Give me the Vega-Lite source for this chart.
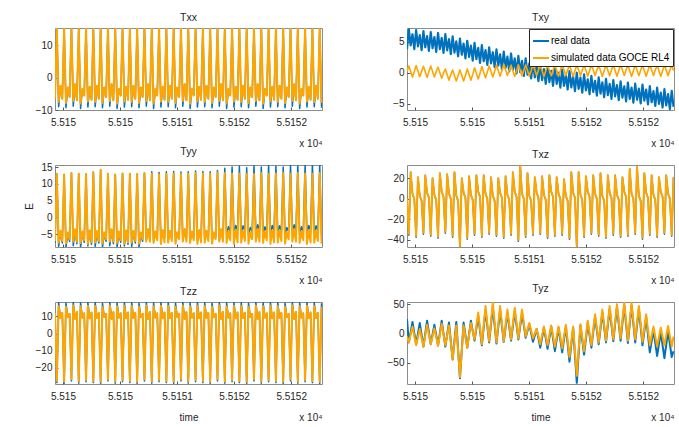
{
"$schema":"https://vega.github.io/schema/vega-lite/v6.json",
"background":"white",
"padding":{"left":24,"top":12,"right":7,"bottom":1},
"datasets":{"d":[
{"t":55149.93,"xx":-6.5,"xxs":-6.5,"xy":3.8,"xys":0.2,"yy":-7.6,"yys":-7,"xz":0,"xzs":0,"zz":12,"zzs":12,"yz":25,"yzs":-5},
{"t":55149.946,"xx":15.4,"xxs":15.4,"xy":7,"xys":1.1,"yy":13,"yys":13,"xz":-35.5,"xzs":-34,"zz":-28.5,"zzs":-27.5,"yz":-15,"yzs":-15},
{"t":55149.962,"xx":-9,"xxs":-7.5,"xy":4.4,"xys":0.2,"yy":-8.6,"yys":-7.5,"xz":26,"xzs":26,"zz":18,"zzs":16,"yz":2.5,"yzs":-1.5},
{"t":55149.978,"xx":-2.5,"xxs":-2.5,"xy":6.2,"xys":-0.7,"yy":-4.5,"yys":-4,"xz":5,"xzs":5,"zz":9,"zzs":9,"yz":20,"yzs":12},
{"t":55149.994,"xx":-6.5,"xxs":-6.5,"xy":3.8,"xys":0.2,"yy":-7.6,"yys":-7,"xz":0,"xzs":0,"zz":12,"zzs":12,"yz":1,"yzs":-4},
{"t":55150.01,"xx":15.4,"xxs":15.4,"xy":6.85,"xys":1.15,"yy":12.8,"yys":12.8,"xz":-37.5,"xzs":-36,"zz":-29,"zzs":-28,"yz":-18,"yzs":-20},
{"t":55150.026,"xx":-9.3,"xxs":-7.8,"xy":4.25,"xys":0.25,"yy":-8.9,"yys":-7.8,"xz":21,"xzs":21,"zz":17.6,"zzs":15.5,"yz":0,"yzs":-6},
{"t":55150.042,"xx":-3,"xxs":-3,"xy":6.05,"xys":-0.65,"yy":-5,"yys":-4.5,"xz":3,"xzs":3,"zz":9.5,"zzs":9.5,"yz":18,"yzs":8},
{"t":55150.058,"xx":-6,"xxs":-6,"xy":3.65,"xys":0.25,"yy":-7.1,"yys":-6.5,"xz":-2,"xzs":-2,"zz":11.5,"zzs":11.5,"yz":-2,"yzs":-7},
{"t":55150.074,"xx":15.4,"xxs":15.4,"xy":6.7,"xys":1.05,"yy":13.2,"yys":13.2,"xz":-34.5,"xzs":-33,"zz":-27.5,"zzs":-26.5,"yz":-22,"yzs":-22},
{"t":55150.09,"xx":-8.8,"xxs":-7.2,"xy":4.1,"xys":0.15,"yy":-8.4,"yys":-7.2,"xz":23,"xzs":23,"zz":18.2,"zzs":16.3,"yz":0,"yzs":-3.5},
{"t":55150.106,"xx":-2,"xxs":-2,"xy":5.9,"xys":-0.75,"yy":-4,"yys":-3.5,"xz":6,"xzs":6,"zz":8.5,"zzs":8.5,"yz":22,"yzs":15},
{"t":55150.122,"xx":-7,"xxs":-7,"xy":3.5,"xys":0.15,"yy":-7.8,"yys":-7.2,"xz":1,"xzs":1,"zz":12.5,"zzs":12.5,"yz":2,"yzs":-1.5},
{"t":55150.138,"xx":15.4,"xxs":15.4,"xy":6.55,"xys":1.1,"yy":13,"yys":13,"xz":-36.5,"xzs":-35,"zz":-28.8,"zzs":-27.8,"yz":-18,"yzs":-18},
{"t":55150.154,"xx":-9.5,"xxs":-8,"xy":3.95,"xys":0.2,"yy":-8.8,"yys":-7.6,"xz":20,"xzs":20,"zz":17.8,"zzs":15.8,"yz":-1.5,"yzs":-4.5},
{"t":55150.17,"xx":-3.5,"xxs":-3.5,"xy":5.75,"xys":-0.7,"yy":-4.7,"yys":-4.2,"xz":4,"xzs":4,"zz":9.2,"zzs":9.2,"yz":15,"yzs":9},
{"t":55150.186,"xx":-5.5,"xxs":-5.5,"xy":3.35,"xys":0.2,"yy":-7.4,"yys":-6.8,"xz":-1,"xzs":-1,"zz":11.8,"zzs":11.8,"yz":-2.5,"yzs":-6},
{"t":55150.202,"xx":15.4,"xxs":15.4,"xy":6.4,"xys":0.9,"yy":12.9,"yys":12.9,"xz":-38.5,"xzs":-37,"zz":-28,"zzs":-27,"yz":-20,"yzs":-21},
{"t":55150.218,"xx":-9.1,"xxs":-7.4,"xy":3.8,"xys":0,"yy":-8.5,"yys":-7.9,"xz":25,"xzs":25,"zz":18.1,"zzs":16.1,"yz":1,"yzs":-2},
{"t":55150.234,"xx":-2.8,"xxs":-2.8,"xy":5.6,"xys":-0.9,"yy":-4.3,"yys":-3.8,"xz":7,"xzs":7,"zz":8.8,"zzs":8.8,"yz":22,"yzs":17},
{"t":55150.25,"xx":-6.8,"xxs":-6.8,"xy":3.2,"xys":0,"yy":-8,"yys":-7.4,"xz":2,"xzs":2,"zz":12.2,"zzs":12.2,"yz":0,"yzs":-1.5},
{"t":55150.266,"xx":15.4,"xxs":15.4,"xy":6.2,"xys":0.6,"yy":13.5,"yys":13.5,"xz":-33.5,"xzs":-32,"zz":-28.5,"zzs":-27.5,"yz":-22,"yzs":-20},
{"t":55150.282,"xx":-9,"xxs":-7.5,"xy":3.6,"xys":-0.3,"yy":-8.6,"yys":-7.5,"xz":24,"xzs":24,"zz":18,"zzs":16,"yz":-1.5,"yzs":-3},
{"t":55150.298,"xx":-2.5,"xxs":-2.5,"xy":5.4,"xys":-1.2,"yy":-4.5,"yys":-4,"xz":5,"xzs":5,"zz":9,"zzs":9,"yz":19,"yzs":14},
{"t":55150.314,"xx":-6.5,"xxs":-6.5,"xy":3,"xys":-0.3,"yy":-7.6,"yys":-7,"xz":0,"xzs":0,"zz":12,"zzs":12,"yz":-12.5,"yzs":-15},
{"t":55150.33,"xx":15.4,"xxs":15.4,"xy":5.85,"xys":0.45,"yy":14.2,"yys":14.2,"xz":-37.5,"xzs":-36,"zz":-29,"zzs":-28,"yz":-44,"yzs":-44},
{"t":55150.346,"xx":-9.3,"xxs":-7.8,"xy":3.25,"xys":-0.45,"yy":-8.9,"yys":-7.8,"xz":26,"xzs":26,"zz":17.6,"zzs":15.5,"yz":-12,"yzs":-15},
{"t":55150.362,"xx":-3,"xxs":-3,"xy":5.05,"xys":-1.35,"yy":-5,"yys":-4.5,"xz":3,"xzs":3,"zz":9.5,"zzs":9.5,"yz":20,"yzs":14},
{"t":55150.378,"xx":-6,"xxs":-6,"xy":2.65,"xys":-0.45,"yy":-7.1,"yys":-6.5,"xz":-2,"xzs":-2,"zz":11.5,"zzs":11.5,"yz":-28,"yzs":-30},
{"t":55150.394,"xx":15.4,"xxs":15.4,"xy":5.5,"xys":0.45,"yy":13,"yys":13,"xz":-47.5,"xzs":-46,"zz":-27.5,"zzs":-26.5,"yz":-76,"yzs":-74},
{"t":55150.41,"xx":-8.8,"xxs":-7.2,"xy":2.9,"xys":-0.45,"yy":-8.4,"yys":-7.2,"xz":20,"xzs":20,"zz":18.2,"zzs":16.3,"yz":-28.5,"yzs":-30},
{"t":55150.426,"xx":-2,"xxs":-2,"xy":4.7,"xys":-1.35,"yy":-4,"yys":-3.5,"xz":6,"xzs":6,"zz":8.5,"zzs":8.5,"yz":19,"yzs":14},
{"t":55150.442,"xx":-7,"xxs":-7,"xy":2.3,"xys":-0.45,"yy":-7.8,"yys":-7.2,"xz":1,"xzs":1,"zz":12.5,"zzs":12.5,"yz":-2.5,"yzs":-5},
{"t":55150.458,"xx":15.4,"xxs":15.4,"xy":5.15,"xys":0.6,"yy":12.8,"yys":12.8,"xz":-39.5,"xzs":-38,"zz":-28.8,"zzs":-27.8,"yz":-24,"yzs":-24},
{"t":55150.474,"xx":-9.5,"xxs":-8,"xy":2.55,"xys":-0.3,"yy":-8.8,"yys":-7.6,"xz":22,"xzs":22,"zz":17.8,"zzs":15.8,"yz":-1,"yzs":-3},
{"t":55150.49,"xx":-3.5,"xxs":-3.5,"xy":4.35,"xys":-1.2,"yy":-4.7,"yys":-4.2,"xz":4,"xzs":4,"zz":9.2,"zzs":9.2,"yz":22,"yzs":18},
{"t":55150.506,"xx":-5.5,"xxs":-5.5,"xy":1.95,"xys":-0.3,"yy":-7.4,"yys":-6.8,"xz":-1,"xzs":-1,"zz":11.8,"zzs":11.8,"yz":5,"yzs":4},
{"t":55150.522,"xx":15.4,"xxs":15.4,"xy":4.8,"xys":0.8,"yy":13.1,"yys":13.1,"xz":-35.5,"xzs":-34,"zz":-28,"zzs":-27,"yz":-12,"yzs":-10},
{"t":55150.538,"xx":-9.1,"xxs":-7.4,"xy":2.2,"xys":-0.1,"yy":-8.5,"yys":-7.9,"xz":23,"xzs":23,"zz":18.1,"zzs":16.1,"yz":9,"yzs":13},
{"t":55150.554,"xx":-2.8,"xxs":-2.8,"xy":4,"xys":-1,"yy":-4.3,"yys":-3.8,"xz":7,"xzs":7,"zz":8.8,"zzs":8.8,"yz":30,"yzs":36},
{"t":55150.57,"xx":-6.8,"xxs":-6.8,"xy":1.6,"xys":-0.1,"yy":-8,"yys":-7.4,"xz":2,"xzs":2,"zz":12.2,"zzs":12.2,"yz":5,"yzs":9},
{"t":55150.586,"xx":15.4,"xxs":15.4,"xy":4.45,"xys":1,"yy":13,"yys":13,"xz":-37.5,"xzs":-36,"zz":-28.5,"zzs":-27.5,"yz":-20,"yzs":-18},
{"t":55150.602,"xx":-9,"xxs":-7.5,"xy":1.85,"xys":0.1,"yy":-8.6,"yys":-7.5,"xz":23,"xzs":23,"zz":18,"zzs":16,"yz":10,"yzs":14.5},
{"t":55150.618,"xx":-2.5,"xxs":-2.5,"xy":3.65,"xys":-0.8,"yy":-4.5,"yys":-4,"xz":5,"xzs":5,"zz":9,"zzs":9,"yz":40,"yzs":47},
{"t":55150.634,"xx":-6.5,"xxs":-6.5,"xy":1.25,"xys":0.1,"yy":-7.6,"yys":-7,"xz":0,"xzs":0,"zz":12,"zzs":12,"yz":12.5,"yzs":17},
{"t":55150.65,"xx":15.4,"xxs":15.4,"xy":4.1,"xys":1.1,"yy":12.9,"yys":12.9,"xz":-34.5,"xzs":-33,"zz":-29,"zzs":-28,"yz":-15,"yzs":-13},
{"t":55150.666,"xx":-9.3,"xxs":-7.8,"xy":1.5,"xys":0.2,"yy":-8.9,"yys":-7.8,"xz":21,"xzs":21,"zz":17.6,"zzs":15.5,"yz":15,"yzs":20},
{"t":55150.682,"xx":-3,"xxs":-3,"xy":3.3,"xys":-0.7,"yy":-5,"yys":-4.5,"xz":3,"xzs":3,"zz":9.5,"zzs":9.5,"yz":45,"yzs":53},
{"t":55150.698,"xx":-6,"xxs":-6,"xy":0.9,"xys":0.2,"yy":-7.1,"yys":-6.5,"xz":-2,"xzs":-2,"zz":11.5,"zzs":11.5,"yz":14,"yzs":19},
{"t":55150.714,"xx":15.4,"xxs":15.4,"xy":3.75,"xys":1.25,"yy":13.2,"yys":13.2,"xz":-36.5,"xzs":-35,"zz":-27.5,"zzs":-26.5,"yz":-17,"yzs":-15},
{"t":55150.73,"xx":-8.8,"xxs":-7.2,"xy":1.15,"xys":0.35,"yy":-6.8,"yys":-7.2,"xz":20,"xzs":20,"zz":18.2,"zzs":16.3,"yz":11.5,"yzs":16},
{"t":55150.746,"xx":-2,"xxs":-2,"xy":2.95,"xys":-0.55,"yy":-3.5,"yys":-3.5,"xz":6,"xzs":6,"zz":8.5,"zzs":8.5,"yz":40,"yzs":47},
{"t":55150.762,"xx":-7,"xxs":-7,"xy":0.55,"xys":0.35,"yy":-6.2,"yys":-7.2,"xz":1,"xzs":1,"zz":12.5,"zzs":12.5,"yz":13,"yzs":17},
{"t":55150.778,"xx":15.4,"xxs":15.4,"xy":3.4,"xys":1.35,"yy":13.6,"yys":13,"xz":-38.5,"xzs":-37,"zz":-28.8,"zzs":-27.8,"yz":-14,"yzs":-13},
{"t":55150.794,"xx":-9.5,"xxs":-8,"xy":0.8,"xys":0.45,"yy":-7.1,"yys":-7.6,"xz":22,"xzs":22,"zz":17.8,"zzs":15.8,"yz":10.5,"yzs":14},
{"t":55150.81,"xx":-3.5,"xxs":-3.5,"xy":2.6,"xys":-0.45,"yy":-4.2,"yys":-4.2,"xz":4,"xzs":4,"zz":9.2,"zzs":9.2,"yz":35,"yzs":41},
{"t":55150.826,"xx":-5.5,"xxs":-5.5,"xy":0.2,"xys":0.45,"yy":-5.9,"yys":-6.8,"xz":-1,"xzs":-1,"zz":11.8,"zzs":11.8,"yz":11.5,"yzs":15.5},
{"t":55150.842,"xx":15.4,"xxs":15.4,"xy":3.1,"xys":1.2,"yy":13.4,"yys":12.8,"xz":-35.5,"xzs":-34,"zz":-28,"zzs":-27,"yz":-12,"yzs":-10},
{"t":55150.858,"xx":-9.1,"xxs":-7.4,"xy":0.5,"xys":0.3,"yy":-6.9,"yys":-7.9,"xz":26,"xzs":26,"zz":18.1,"zzs":16.1,"yz":13,"yzs":17},
{"t":55150.874,"xx":-2.8,"xxs":-2.8,"xy":2.3,"xys":-0.6,"yy":-3.8,"yys":-3.8,"xz":7,"xzs":7,"zz":8.8,"zzs":8.8,"yz":38,"yzs":44},
{"t":55150.89,"xx":-6.8,"xxs":-6.8,"xy":-0.1,"xys":0.3,"yy":-6.1,"yys":-7.4,"xz":2,"xzs":2,"zz":12.2,"zzs":12.2,"yz":14,"yzs":18},
{"t":55150.906,"xx":15.4,"xxs":15.4,"xy":2.7,"xys":1.3,"yy":13.6,"yys":13,"xz":-41.5,"xzs":-40,"zz":-28.5,"zzs":-27.5,"yz":-10,"yzs":-8},
{"t":55150.922,"xx":-9,"xxs":-7.5,"xy":0.1,"xys":0.4,"yy":-7,"yys":-7.5,"xz":32,"xzs":32,"zz":18,"zzs":16,"yz":12.5,"yzs":16.5},
{"t":55150.938,"xx":-2.5,"xxs":-2.5,"xy":1.9,"xys":-0.5,"yy":-4,"yys":-4,"xz":5,"xzs":5,"zz":9,"zzs":9,"yz":35,"yzs":41},
{"t":55150.954,"xx":-6.5,"xxs":-6.5,"xy":-0.5,"xys":0.4,"yy":-6,"yys":-7,"xz":0,"xzs":0,"zz":12,"zzs":12,"yz":14,"yzs":18},
{"t":55150.97,"xx":15.4,"xxs":15.4,"xy":2.3,"xys":1.25,"yy":13.7,"yys":13.1,"xz":-37.5,"xzs":-36,"zz":-29,"zzs":-28,"yz":-7,"yzs":-5},
{"t":55150.986,"xx":-9.3,"xxs":-7.8,"xy":-0.3,"xys":0.35,"yy":-7.2,"yys":-7.8,"xz":25,"xzs":25,"zz":17.6,"zzs":15.5,"yz":4.5,"yzs":6.5},
{"t":55151.002,"xx":-3,"xxs":-3,"xy":1.5,"xys":-0.55,"yy":-4.5,"yys":-4.5,"xz":3,"xzs":3,"zz":9.5,"zzs":9.5,"yz":16,"yzs":18},
{"t":55151.018,"xx":-6,"xxs":-6,"xy":-0.9,"xys":0.35,"yy":-5.8,"yys":-6.5,"xz":-2,"xzs":-2,"zz":11.5,"zzs":11.5,"yz":1,"yzs":5},
{"t":55151.034,"xx":15.4,"xxs":15.4,"xy":1.85,"xys":1.35,"yy":13.5,"yys":12.9,"xz":-35.5,"xzs":-34,"zz":-27.5,"zzs":-26.5,"yz":-14,"yzs":-8},
{"t":55151.05,"xx":-8.8,"xxs":-7.2,"xy":-0.75,"xys":0.45,"yy":-6.8,"yys":-7.2,"xz":21,"xzs":21,"zz":18.2,"zzs":16.3,"yz":-3,"yzs":0},
{"t":55151.066,"xx":-2,"xxs":-2,"xy":1.05,"xys":-0.45,"yy":-3.5,"yys":-3.5,"xz":6,"xzs":6,"zz":8.5,"zzs":8.5,"yz":8,"yzs":8},
{"t":55151.082,"xx":-7,"xxs":-7,"xy":-1.35,"xys":0.45,"yy":-6.2,"yys":-7.2,"xz":1,"xzs":1,"zz":12.5,"zzs":12.5,"yz":-8,"yzs":-5},
{"t":55151.098,"xx":15.4,"xxs":15.4,"xy":1.4,"xys":1.2,"yy":13.6,"yys":13,"xz":-34.5,"xzs":-33,"zz":-28.8,"zzs":-27.8,"yz":-24,"yzs":-18},
{"t":55151.114,"xx":-9.5,"xxs":-8,"xy":-1.2,"xys":0.3,"yy":-7.1,"yys":-7.6,"xz":22,"xzs":22,"zz":17.8,"zzs":15.8,"yz":-7,"yzs":-3},
{"t":55151.13,"xx":-3.5,"xxs":-3.5,"xy":0.6,"xys":-0.6,"yy":-4.2,"yys":-4.2,"xz":4,"xzs":4,"zz":9.2,"zzs":9.2,"yz":10,"yzs":12},
{"t":55151.146,"xx":-5.5,"xxs":-5.5,"xy":-1.8,"xys":0.3,"yy":-5.9,"yys":-6.8,"xz":-1,"xzs":-1,"zz":11.8,"zzs":11.8,"yz":-8,"yzs":-4},
{"t":55151.162,"xx":15.4,"xxs":15.4,"xy":1.1,"xys":1.3,"yy":13.8,"yys":13.2,"xz":-38.5,"xzs":-37,"zz":-28,"zzs":-27,"yz":-26,"yzs":-20},
{"t":55151.178,"xx":-9.1,"xxs":-7.4,"xy":-1.5,"xys":0.4,"yy":-6.9,"yys":-7.9,"xz":23,"xzs":23,"zz":18.1,"zzs":16.1,"yz":-7,"yzs":-3},
{"t":55151.194,"xx":-2.8,"xxs":-2.8,"xy":0.3,"xys":-0.5,"yy":-3.8,"yys":-3.8,"xz":7,"xzs":7,"zz":8.8,"zzs":8.8,"yz":12,"yzs":14},
{"t":55151.21,"xx":-6.8,"xxs":-6.8,"xy":-2.1,"xys":0.4,"yy":-6.1,"yys":-7.4,"xz":2,"xzs":2,"zz":12.2,"zzs":12.2,"yz":-9,"yzs":-4},
{"t":55151.226,"xx":15.4,"xxs":15.4,"xy":0.8,"xys":1.25,"yy":13.7,"yys":13.1,"xz":-36.5,"xzs":-35,"zz":-28.5,"zzs":-27.5,"yz":-30,"yzs":-22},
{"t":55151.242,"xx":-9,"xxs":-7.5,"xy":-1.8,"xys":0.35,"yy":-7,"yys":-7.5,"xz":21,"xzs":21,"zz":18,"zzs":16,"yz":-10,"yzs":-5},
{"t":55151.258,"xx":-2.5,"xxs":-2.5,"xy":0,"xys":-0.55,"yy":-4,"yys":-4,"xz":5,"xzs":5,"zz":9,"zzs":9,"yz":10,"yzs":12},
{"t":55151.274,"xx":-6.5,"xxs":-6.5,"xy":-2.4,"xys":0.35,"yy":-6,"yys":-7,"xz":0,"xzs":0,"zz":12,"zzs":12,"yz":-11,"yzs":-6.5},
{"t":55151.29,"xx":15.4,"xxs":15.4,"xy":0.5,"xys":1.35,"yy":13.6,"yys":13,"xz":-35.5,"xzs":-34,"zz":-29,"zzs":-28,"yz":-32,"yzs":-25},
{"t":55151.306,"xx":-9.3,"xxs":-7.8,"xy":-2.1,"xys":0.45,"yy":-7.2,"yys":-7.8,"xz":19,"xzs":19,"zz":17.6,"zzs":15.5,"yz":-10,"yzs":-5},
{"t":55151.322,"xx":-3,"xxs":-3,"xy":-0.3,"xys":-0.45,"yy":-4.5,"yys":-4.5,"xz":3,"xzs":3,"zz":9.5,"zzs":9.5,"yz":12,"yzs":15},
{"t":55151.338,"xx":-6,"xxs":-6,"xy":-2.7,"xys":0.45,"yy":-5.8,"yys":-6.5,"xz":-2,"xzs":-2,"zz":11.5,"zzs":11.5,"yz":-18,"yzs":-12.5},
{"t":55151.354,"xx":15.4,"xxs":15.4,"xy":0.25,"xys":1.2,"yy":14,"yys":13.4,"xz":-39.5,"xzs":-38,"zz":-27.5,"zzs":-26.5,"yz":-48,"yzs":-40},
{"t":55151.37,"xx":-8.8,"xxs":-7.2,"xy":-2.35,"xys":0.3,"yy":-6.8,"yys":-7.2,"xz":26,"xzs":26,"zz":18.2,"zzs":16.3,"yz":-19,"yzs":-14},
{"t":55151.386,"xx":-2,"xxs":-2,"xy":-0.55,"xys":-0.6,"yy":-3.5,"yys":-3.5,"xz":6,"xzs":6,"zz":8.5,"zzs":8.5,"yz":10,"yzs":12},
{"t":55151.402,"xx":-7,"xxs":-7,"xy":-2.95,"xys":0.3,"yy":-6.2,"yys":-7.2,"xz":1,"xzs":1,"zz":12.5,"zzs":12.5,"yz":-37,"yzs":-30},
{"t":55151.418,"xx":15.4,"xxs":15.4,"xy":0,"xys":1.3,"yy":14.6,"yys":13.2,"xz":-47.5,"xzs":-46,"zz":-28.8,"zzs":-27.8,"yz":-84,"yzs":-72},
{"t":55151.434,"xx":-9.5,"xxs":-8,"xy":-2.6,"xys":0.4,"yy":-5,"yys":-7.6,"xz":26,"xzs":26,"zz":17.8,"zzs":15.8,"yz":-35,"yzs":-28},
{"t":55151.45,"xx":-3.5,"xxs":-3.5,"xy":-0.8,"xys":-0.5,"yy":-2.8,"yys":-4.2,"xz":4,"xzs":4,"zz":9.2,"zzs":9.2,"yz":14,"yzs":16},
{"t":55151.466,"xx":-5.5,"xxs":-5.5,"xy":-3.2,"xys":0.4,"yy":-4.2,"yys":-6.8,"xz":-1,"xzs":-1,"zz":11.8,"zzs":11.8,"yz":-11,"yzs":-7},
{"t":55151.482,"xx":15.4,"xxs":15.4,"xy":-0.25,"xys":1.25,"yy":15,"yys":13,"xz":-37.5,"xzs":-36,"zz":-28,"zzs":-27,"yz":-36,"yzs":-30},
{"t":55151.498,"xx":-9.1,"xxs":-7.4,"xy":-2.85,"xys":0.35,"yy":-4.6,"yys":-7.9,"xz":22,"xzs":22,"zz":18.1,"zzs":16.1,"yz":-9,"yzs":-4},
{"t":55151.514,"xx":-2.8,"xxs":-2.8,"xy":-1.05,"xys":-0.55,"yy":-2.4,"yys":-3.8,"xz":7,"xzs":7,"zz":8.8,"zzs":8.8,"yz":18,"yzs":22},
{"t":55151.53,"xx":-6.8,"xxs":-6.8,"xy":-3.45,"xys":0.35,"yy":-3.9,"yys":-7.4,"xz":2,"xzs":2,"zz":12.2,"zzs":12.2,"yz":-3,"yzs":1},
{"t":55151.546,"xx":15.4,"xxs":15.4,"xy":-0.5,"xys":1.35,"yy":15.2,"yys":13.1,"xz":-34.5,"xzs":-33,"zz":-28.5,"zzs":-27.5,"yz":-24,"yzs":-20},
{"t":55151.562,"xx":-9,"xxs":-7.5,"xy":-3.1,"xys":0.45,"yy":-4.8,"yys":-7.5,"xz":23,"xzs":23,"zz":18,"zzs":16,"yz":2,"yzs":6.5},
{"t":55151.578,"xx":-2.5,"xxs":-2.5,"xy":-1.3,"xys":-0.45,"yy":-2.5,"yys":-4,"xz":5,"xzs":5,"zz":9,"zzs":9,"yz":28,"yzs":33},
{"t":55151.594,"xx":-6.5,"xxs":-6.5,"xy":-3.7,"xys":0.45,"yy":-4,"yys":-7,"xz":0,"xzs":0,"zz":12,"zzs":12,"yz":5,"yzs":9},
{"t":55151.61,"xx":15.4,"xxs":15.4,"xy":-0.75,"xys":1.2,"yy":14.8,"yys":13,"xz":-36.5,"xzs":-35,"zz":-29,"zzs":-28,"yz":-18,"yzs":-15},
{"t":55151.626,"xx":-9.3,"xxs":-7.8,"xy":-3.35,"xys":0.3,"yy":-5.2,"yys":-7.8,"xz":25,"xzs":25,"zz":17.6,"zzs":15.5,"yz":9,"yzs":13},
{"t":55151.642,"xx":-3,"xxs":-3,"xy":-1.55,"xys":-0.6,"yy":-3,"yys":-4.5,"xz":3,"xzs":3,"zz":9.5,"zzs":9.5,"yz":36,"yzs":41},
{"t":55151.658,"xx":-6,"xxs":-6,"xy":-3.95,"xys":0.3,"yy":-4.3,"yys":-6.5,"xz":-2,"xzs":-2,"zz":11.5,"zzs":11.5,"yz":10.5,"yzs":14.5},
{"t":55151.674,"xx":15.4,"xxs":15.4,"xy":-1,"xys":1.3,"yy":15.4,"yys":12.9,"xz":-38.5,"xzs":-37,"zz":-27.5,"zzs":-26.5,"yz":-15,"yzs":-12},
{"t":55151.69,"xx":-8.8,"xxs":-7.2,"xy":-3.6,"xys":0.4,"yy":-4.5,"yys":-7.2,"xz":23,"xzs":23,"zz":18.2,"zzs":16.3,"yz":13.5,"yzs":17.5},
{"t":55151.706,"xx":-2,"xxs":-2,"xy":-1.8,"xys":-0.5,"yy":-2.2,"yys":-3.5,"xz":6,"xzs":6,"zz":8.5,"zzs":8.5,"yz":42,"yzs":47},
{"t":55151.722,"xx":-7,"xxs":-7,"xy":-4.2,"xys":0.4,"yy":-3.8,"yys":-7.2,"xz":1,"xzs":1,"zz":12.5,"zzs":12.5,"yz":14.5,"yzs":18.5},
{"t":55151.738,"xx":15.4,"xxs":15.4,"xy":-1.2,"xys":1.25,"yy":15,"yys":13.2,"xz":-35.5,"xzs":-34,"zz":-28.8,"zzs":-27.8,"yz":-13,"yzs":-10},
{"t":55151.754,"xx":-9.5,"xxs":-8,"xy":-3.8,"xys":0.35,"yy":-5,"yys":-7.6,"xz":23,"xzs":23,"zz":17.8,"zzs":15.8,"yz":16,"yzs":20},
{"t":55151.77,"xx":-3.5,"xxs":-3.5,"xy":-2,"xys":-0.55,"yy":-2.8,"yys":-4.2,"xz":4,"xzs":4,"zz":9.2,"zzs":9.2,"yz":45,"yzs":50},
{"t":55151.786,"xx":-5.5,"xxs":-5.5,"xy":-4.4,"xys":0.35,"yy":-4.2,"yys":-6.8,"xz":-1,"xzs":-1,"zz":11.8,"zzs":11.8,"yz":16.5,"yzs":21},
{"t":55151.802,"xx":15.4,"xxs":15.4,"xy":-1.4,"xys":1.35,"yy":15.5,"yys":13,"xz":-37.5,"xzs":-36,"zz":-28,"zzs":-27,"yz":-12,"yzs":-8},
{"t":55151.818,"xx":-9.1,"xxs":-7.4,"xy":-4,"xys":0.45,"yy":-4.6,"yys":-7.9,"xz":21,"xzs":21,"zz":18.1,"zzs":16.1,"yz":18,"yzs":22.5},
{"t":55151.834,"xx":-2.8,"xxs":-2.8,"xy":-2.2,"xys":-0.45,"yy":-2.4,"yys":-3.8,"xz":7,"xzs":7,"zz":8.8,"zzs":8.8,"yz":48,"yzs":53},
{"t":55151.85,"xx":-6.8,"xxs":-6.8,"xy":-4.6,"xys":0.45,"yy":-3.9,"yys":-7.4,"xz":2,"xzs":2,"zz":12.2,"zzs":12.2,"yz":16,"yzs":20.5},
{"t":55151.866,"xx":15.4,"xxs":15.4,"xy":-1.6,"xys":1.2,"yy":15.2,"yys":13.1,"xz":-36.5,"xzs":-35,"zz":-28.5,"zzs":-27.5,"yz":-16,"yzs":-12},
{"t":55151.882,"xx":-9,"xxs":-7.5,"xy":-4.2,"xys":0.3,"yy":-4.8,"yys":-7.5,"xz":29,"xzs":29,"zz":18,"zzs":16,"yz":16,"yzs":20.5},
{"t":55151.898,"xx":-2.5,"xxs":-2.5,"xy":-2.4,"xys":-0.6,"yy":-2.5,"yys":-4,"xz":5,"xzs":5,"zz":9,"zzs":9,"yz":48,"yzs":53},
{"t":55151.914,"xx":-6.5,"xxs":-6.5,"xy":-4.8,"xys":0.3,"yy":-4,"yys":-7,"xz":0,"xzs":0,"zz":12,"zzs":12,"yz":16.5,"yzs":21.5},
{"t":55151.93,"xx":15.4,"xxs":15.4,"xy":-1.75,"xys":1.3,"yy":15,"yys":13.3,"xz":-34.5,"xzs":-33,"zz":-29,"zzs":-28,"yz":-15,"yzs":-10},
{"t":55151.946,"xx":-9.3,"xxs":-7.8,"xy":-4.35,"xys":0.4,"yy":-5.2,"yys":-7.8,"xz":31,"xzs":31,"zz":17.6,"zzs":15.5,"yz":13.5,"yzs":18.5},
{"t":55151.962,"xx":-3,"xxs":-3,"xy":-2.55,"xys":-0.5,"yy":-3,"yys":-4.5,"xz":3,"xzs":3,"zz":9.5,"zzs":9.5,"yz":42,"yzs":47},
{"t":55151.978,"xx":-6,"xxs":-6,"xy":-4.95,"xys":0.4,"yy":-4.3,"yys":-6.5,"xz":-2,"xzs":-2,"zz":11.5,"zzs":11.5,"yz":11,"yzs":16.5},
{"t":55151.994,"xx":15.4,"xxs":15.4,"xy":-1.9,"xys":1.25,"yy":15.6,"yys":13,"xz":-39.5,"xzs":-38,"zz":-27.5,"zzs":-26.5,"yz":-20,"yzs":-14},
{"t":55152.01,"xx":-8.8,"xxs":-7.2,"xy":-4.5,"xys":0.35,"yy":-4.5,"yys":-7.2,"xz":25,"xzs":25,"zz":18.2,"zzs":16.3,"yz":4,"yzs":9.5},
{"t":55152.026,"xx":-2,"xxs":-2,"xy":-2.7,"xys":-0.55,"yy":-2.2,"yys":-3.5,"xz":6,"xzs":6,"zz":8.5,"zzs":8.5,"yz":28,"yzs":33},
{"t":55152.042,"xx":-7,"xxs":-7,"xy":-5.1,"xys":0.35,"yy":-3.8,"yys":-7.2,"xz":1,"xzs":1,"zz":12.5,"zzs":12.5,"yz":-2,"yzs":6.5},
{"t":55152.058,"xx":15.4,"xxs":15.4,"xy":-2.15,"xys":1.35,"yy":15.3,"yys":13.2,"xz":-35.5,"xzs":-34,"zz":-28.8,"zzs":-27.8,"yz":-32,"yzs":-20},
{"t":55152.074,"xx":-9.5,"xxs":-8,"xy":-4.75,"xys":0.45,"yy":-5,"yys":-7.6,"xz":23,"xzs":23,"zz":17.8,"zzs":15.8,"yz":-13,"yzs":-4},
{"t":55152.09,"xx":-3.5,"xxs":-3.5,"xy":-2.95,"xys":-0.45,"yy":-2.8,"yys":-4.2,"xz":4,"xzs":4,"zz":9.2,"zzs":9.2,"yz":6,"yzs":12},
{"t":55152.106,"xx":-5.5,"xxs":-5.5,"xy":-5.35,"xys":0.45,"yy":-4.2,"yys":-6.8,"xz":-1,"xzs":-1,"zz":11.8,"zzs":11.8,"yz":-16,"yzs":-5},
{"t":55152.122,"xx":15.4,"xxs":15.4,"xy":-2.4,"xys":1.2,"yy":15.6,"yys":13.1,"xz":-37.5,"xzs":-36,"zz":-28,"zzs":-27,"yz":-38,"yzs":-22},
{"t":55152.138,"xx":-9.1,"xxs":-7.4,"xy":-5,"xys":0.3,"yy":-4.6,"yys":-7.9,"xz":21,"xzs":21,"zz":18.1,"zzs":16.1,"yz":-18,"yzs":-6},
{"t":55152.154,"xx":-2.8,"xxs":-2.8,"xy":-3.2,"xys":-0.6,"yy":-2.4,"yys":-3.8,"xz":7,"xzs":7,"zz":8.8,"zzs":8.8,"yz":2,"yzs":10},
{"t":55152.17,"xx":-6.8,"xxs":-6.8,"xy":-5.6,"xys":0.3,"yy":-3.9,"yys":-7.4,"xz":2,"xzs":2,"zz":12.2,"zzs":12.2,"yz":-20,"yzs":-5},
{"t":55152.186,"xx":15.4,"xxs":15.4,"xy":-2.65,"xys":1.3,"yy":16,"yys":13,"xz":-34.5,"xzs":-33,"zz":-28.5,"zzs":-27.5,"yz":-42,"yzs":-20},
{"t":55152.202,"xx":-9,"xxs":-7.5,"xy":-5.25,"xys":0.4,"yy":-4.8,"yys":-7.5,"xz":23,"xzs":23,"zz":18,"zzs":16,"yz":-19,"yzs":-3.5},
{"t":55152.218,"xx":-2.5,"xxs":-2.5,"xy":-3.45,"xys":-0.5,"yy":-2.5,"yys":-4,"xz":5,"xzs":5,"zz":9,"zzs":9,"yz":4,"yzs":13},
{"t":55152.234,"xx":-6.5,"xxs":-6.5,"xy":-5.85,"xys":0.4,"yy":-4,"yys":-7,"xz":0,"xzs":0,"zz":12,"zzs":12,"yz":-18,"yzs":-4.5},
{"t":55152.25,"xx":15.4,"xxs":15.4,"xy":-2.9,"xys":1.25,"yy":15.8,"yys":13.2,"xz":-36.5,"xzs":-35,"zz":-29,"zzs":-28,"yz":-40,"yzs":-22},
{"t":55152.266,"xx":-9.3,"xxs":-7.8,"xy":-5.5,"xys":0.35,"yy":-5.2,"yys":-7.8,"xz":21,"xzs":21,"zz":17.6,"zzs":15.5,"yz":-30,"yzs":-5}
]},
"columns":2,
"bounds":"flush",
"spacing":{"row":55,"column":85},
"resolve":{"scale":{"color":"independent"},"legend":{"color":"independent"}},
"concat":[
{"width":267,"height":82,"title":"Txx","data":{"name":"d"},
 "layer":[
  {"mark":{"type":"line","color":"#0072BD","strokeWidth":1.5,"clip":true,"strokeJoin":"round"},
   "encoding":{"x":{"field":"t","type":"quantitative","title":"x 10⁴","scale":{"domain":[55149.93,55152.27],"nice":false,"zero":false},"axis":{"values":[55150,55150.5,55151,55151.5,55152],"tickCount":20,"labelExpr":"datum.value < 55150.9 ? '5.515' : datum.value < 55151.1 ? '5.5151' : '5.5152'"}},
    "y":{"field":"xx","type":"quantitative","title":null,"scale":{"domain":[-10,15.4],"nice":false,"zero":false},"axis":{"values":[-10,0,10],"tickCount":20,"format":"d","labelOverlap":false}}}},
  {"mark":{"type":"line","color":"#FFA500","strokeWidth":2,"clip":true,"strokeJoin":"round"},
   "encoding":{"x":{"field":"t","type":"quantitative","title":"x 10⁴"},"y":{"field":"xxs","type":"quantitative","title":null}}}
 ]},
{"width":267,"height":82,"title":"Txy","data":{"name":"d"},
 "layer":[
  {"mark":{"type":"line","strokeWidth":2.2,"clip":true,"strokeJoin":"round"},
   "encoding":{"x":{"field":"t","type":"quantitative","title":"x 10⁴","scale":{"domain":[55149.93,55152.27],"nice":false,"zero":false},"axis":{"values":[55150,55150.5,55151,55151.5,55152],"tickCount":20,"labelExpr":"datum.value < 55150.9 ? '5.515' : datum.value < 55151.1 ? '5.5151' : '5.5152'"}},
    "y":{"field":"xy","type":"quantitative","title":null,"scale":{"domain":[-6,7.2],"nice":false,"zero":false},"axis":{"values":[-5,0,5],"tickCount":20,"format":"d","labelOverlap":false}},
    "color":{"datum":"real data","scale":{"domain":["real data","simulated data GOCE RL4"],"range":["#0072BD","#FFA500"]},
      "legend":{"orient":"top-right","offset":1,"title":null,"fillColor":"white","strokeColor":"#262626","padding":3,"symbolType":"stroke","symbolSize":256,"symbolStrokeWidth":2,"labelFontSize":10,"labelColor":"#000000","rowPadding":3,"labelOffset":1}}}},
  {"mark":{"type":"line","strokeWidth":1.6,"clip":true,"strokeJoin":"round"},
   "encoding":{"x":{"field":"t","type":"quantitative","title":"x 10⁴"},"y":{"field":"xys","type":"quantitative","title":null},
    "color":{"datum":"simulated data GOCE RL4"}}}
 ]},
{"width":267,"height":82,"title":"Tyy","data":{"name":"d"},
 "layer":[
  {"mark":{"type":"line","color":"#0072BD","strokeWidth":1.5,"clip":true,"strokeJoin":"round"},
   "encoding":{"x":{"field":"t","type":"quantitative","title":"x 10⁴","scale":{"domain":[55149.93,55152.27],"nice":false,"zero":false},"axis":{"values":[55150,55150.5,55151,55151.5,55152],"tickCount":20,"labelExpr":"datum.value < 55150.9 ? '5.515' : datum.value < 55151.1 ? '5.5151' : '5.5152'"}},
    "y":{"field":"yy","type":"quantitative","title":"E","scale":{"domain":[-8.8,15.6],"nice":false,"zero":false},"axis":{"values":[-5,0,5,10,15],"tickCount":20,"format":"d","labelOverlap":false}}}},
  {"mark":{"type":"line","color":"#FFA500","strokeWidth":2,"clip":true,"strokeJoin":"round"},
   "encoding":{"x":{"field":"t","type":"quantitative","title":"x 10⁴"},"y":{"field":"yys","type":"quantitative","title":"E"}}}
 ]},
{"width":267,"height":82,"title":"Txz","data":{"name":"d"},
 "layer":[
  {"mark":{"type":"line","color":"#0072BD","strokeWidth":1.5,"clip":true,"strokeJoin":"round"},
   "encoding":{"x":{"field":"t","type":"quantitative","title":"x 10⁴","scale":{"domain":[55149.93,55152.27],"nice":false,"zero":false},"axis":{"values":[55150,55150.5,55151,55151.5,55152],"tickCount":20,"labelExpr":"datum.value < 55150.9 ? '5.515' : datum.value < 55151.1 ? '5.5151' : '5.5152'"}},
    "y":{"field":"xz","type":"quantitative","title":null,"scale":{"domain":[-47,33],"nice":false,"zero":false},"axis":{"values":[-40,-20,0,20],"tickCount":20,"format":"d","labelOverlap":false}}}},
  {"mark":{"type":"line","color":"#FFA500","strokeWidth":2,"clip":true,"strokeJoin":"round"},
   "encoding":{"x":{"field":"t","type":"quantitative","title":"x 10⁴"},"y":{"field":"xzs","type":"quantitative","title":null}}}
 ]},
{"width":267,"height":82,"title":"Tzz","data":{"name":"d"},
 "resolve":{"axis":{"x":"independent"}},
 "layer":[
  {"mark":{"type":"line","color":"#0072BD","strokeWidth":1.5,"clip":true,"strokeJoin":"round"},
   "encoding":{"x":{"field":"t","type":"quantitative","title":"x 10⁴","scale":{"domain":[55149.93,55152.27],"nice":false,"zero":false},"axis":{"values":[55150,55150.5,55151,55151.5,55152],"tickCount":20,"labelExpr":"datum.value < 55150.9 ? '5.515' : datum.value < 55151.1 ? '5.5151' : '5.5152'"}},
    "y":{"field":"zz","type":"quantitative","title":null,"scale":{"domain":[-29.3,18.3],"nice":false,"zero":false},"axis":{"values":[-20,-10,0,10],"tickCount":20,"format":"d","labelOverlap":false}}}},
  {"mark":{"type":"line","color":"#FFA500","strokeWidth":2,"clip":true,"strokeJoin":"round"},
   "encoding":{"x":{"field":"t","type":"quantitative","title":"time","axis":{"orient":"bottom","labels":false,"ticks":false,"domain":false,"titleAnchor":"middle","titlePadding":28}},"y":{"field":"zzs","type":"quantitative","title":null}}}
 ]},
{"width":267,"height":82,"title":"Tyz","data":{"name":"d"},
 "resolve":{"axis":{"x":"independent"}},
 "layer":[
  {"mark":{"type":"line","color":"#0072BD","strokeWidth":2,"clip":true,"strokeJoin":"round"},
   "encoding":{"x":{"field":"t","type":"quantitative","title":"x 10⁴","scale":{"domain":[55149.93,55152.27],"nice":false,"zero":false},"axis":{"values":[55150,55150.5,55151,55151.5,55152],"tickCount":20,"labelExpr":"datum.value < 55150.9 ? '5.515' : datum.value < 55151.1 ? '5.5151' : '5.5152'"}},
    "y":{"field":"yz","type":"quantitative","title":null,"scale":{"domain":[-86,54],"nice":false,"zero":false},"axis":{"values":[-50,0,50],"tickCount":20,"format":"d","labelOverlap":false}}}},
  {"mark":{"type":"line","color":"#FFA500","strokeWidth":2,"clip":true,"strokeJoin":"round"},
   "encoding":{"x":{"field":"t","type":"quantitative","title":"time","axis":{"orient":"bottom","labels":false,"ticks":false,"domain":false,"titleAnchor":"middle","titlePadding":28}},"y":{"field":"yzs","type":"quantitative","title":null}}}
 ]}
],
"config":{
 "font":"Liberation Sans",
 "view":{"stroke":"#8c8c8c","strokeWidth":1},
 "axis":{"grid":false,"domain":false,"tickColor":"#555555","tickSize":-3,"labelFontSize":10,"labelColor":"#262626","labelPadding":6,"labelFlush":false,"labelOverlap":false,"titleFontSize":10,"titleFontWeight":"normal","titleColor":"#262626"},
 "axisX":{"titleAnchor":"end","titlePadding":11,"labelPadding":10},
 "axisY":{"titlePadding":6,"labelOverlap":false},
 "title":{"fontSize":10.5,"fontWeight":"normal","color":"#262626","offset":5}
}
}
